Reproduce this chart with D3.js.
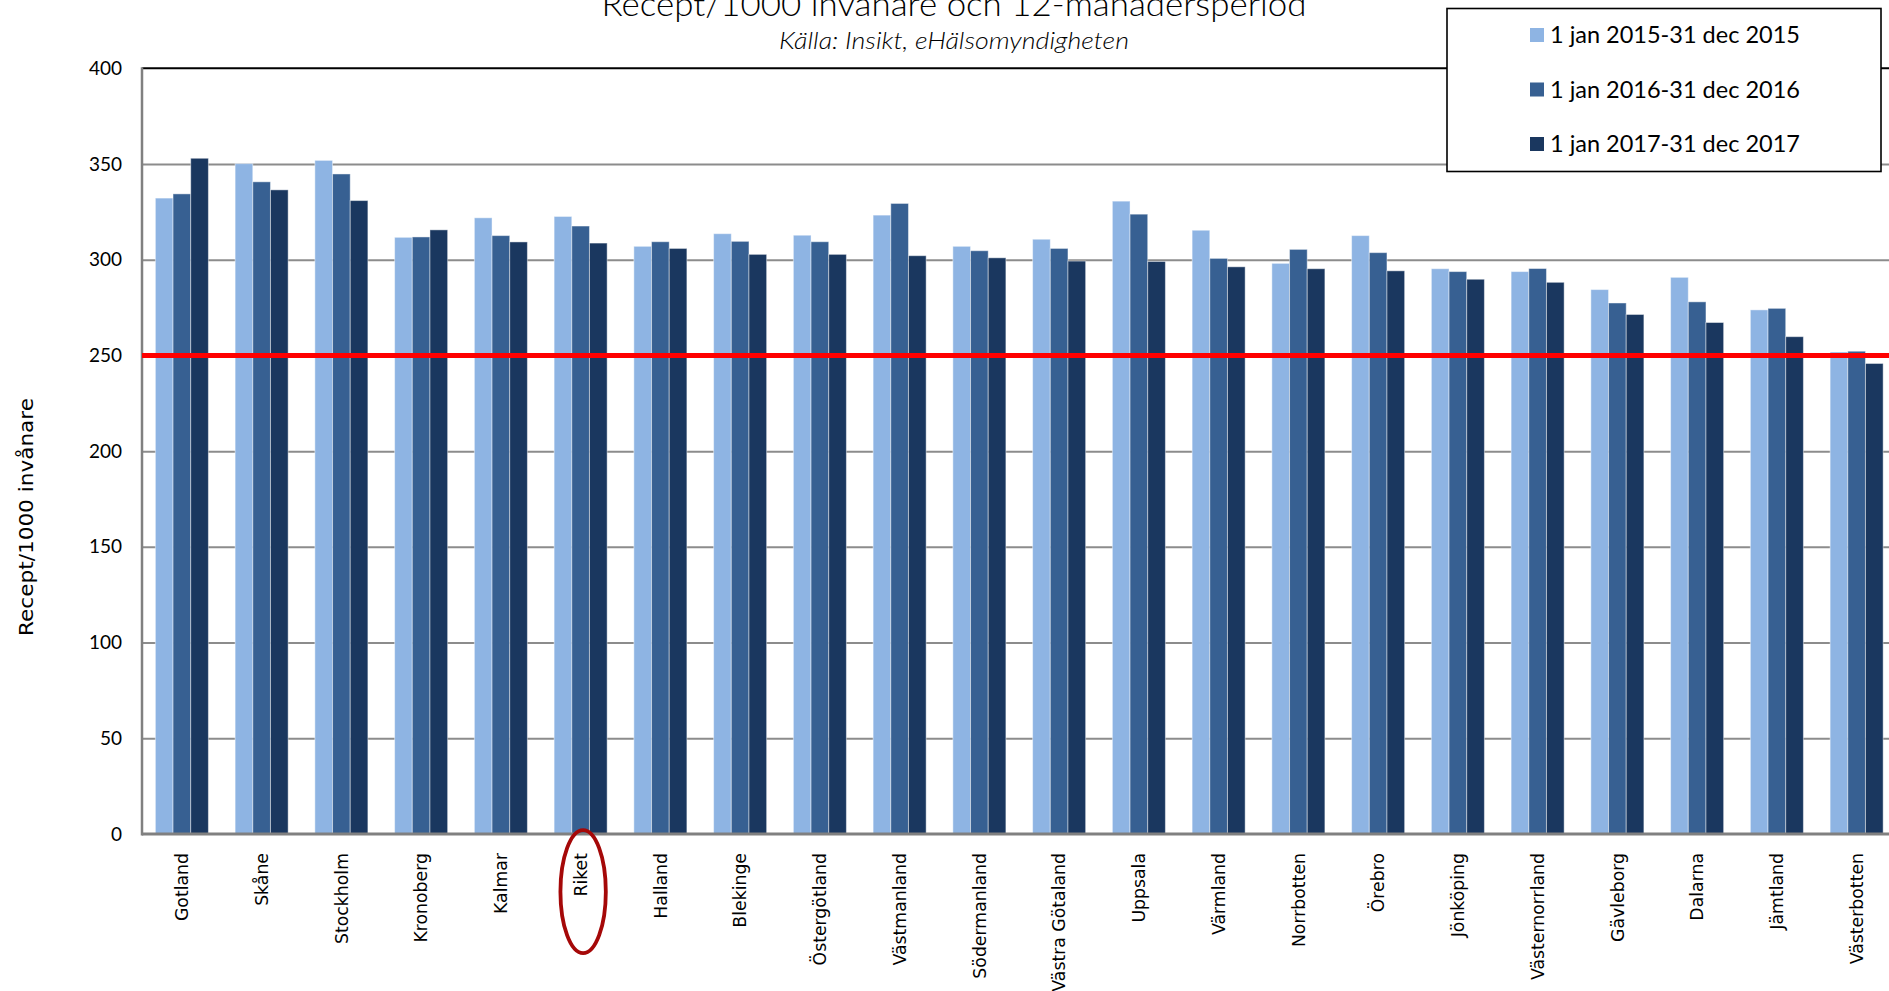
<!DOCTYPE html>
<html>
<head>
<meta charset="utf-8">
<script src="https://cdn.jsdelivr.net/npm/d3@7"></script>
<style>
  html, body { margin: 0; padding: 0; background: #fff; overflow: hidden; }
  svg { display: block; }
</style>
</head>
<body>
<svg id="chart" width="1889" height="991"></svg>
<script>
const categories = ["Gotland", "Skåne", "Stockholm", "Kronoberg", "Kalmar", "Riket", "Halland", "Blekinge", "Östergötland", "Västmanland", "Södermanland", "Västra Götaland", "Uppsala", "Värmland", "Norrbotten", "Örebro", "Jönköping", "Västernorrland", "Gävleborg", "Dalarna", "Jämtland", "Västerbotten"];
const seriesNames = ["1 jan 2015-31 dec 2015", "1 jan 2016-31 dec 2016", "1 jan 2017-31 dec 2017"];
const values2015 = [332.2, 350.2, 351.9, 311.7, 321.9, 322.6, 307.0, 313.6, 312.8, 323.3, 307.0, 310.7, 330.6, 315.4, 298.1, 312.6, 295.3, 293.8, 284.4, 290.8, 273.8, 251.8];
const values2016 = [334.4, 340.7, 344.8, 311.9, 312.6, 317.6, 309.4, 309.6, 309.4, 329.4, 304.7, 305.9, 323.8, 300.7, 305.4, 303.7, 293.8, 295.4, 277.4, 278.0, 274.6, 252.2];
const values2017 = [353.0, 336.5, 330.9, 315.6, 309.3, 308.7, 305.9, 302.8, 302.8, 302.1, 301.0, 299.3, 299.1, 296.3, 295.3, 294.2, 289.8, 288.2, 271.4, 267.2, 259.8, 245.8];
const yTicks = [0, 50, 100, 150, 200, 250, 300, 350, 400];
const referenceValue = 250;
const highlighted = "Riket";
const titleText = "Recept/1000 invånare och 12-månadersperiod";
const subtitleText = "Källa: Insikt, eHälsomyndigheten";
const yAxisTitle = "Recept/1000 invånare";

const colors = ["#8EB4E3", "#376092", "#1A375F"];
const seriesValues = [values2015, values2016, values2017];

const svg = d3.select("#chart");
const plotLeft = 142, plotTop = 68.3, plotBottom = 834;
const step = 79.75;
const plotRight = plotLeft + step * categories.length;

const x = d3.scaleBand().domain(categories).range([plotLeft, plotRight]).paddingInner(0.335).paddingOuter(0.1675);
const xs = d3.scaleBand().domain(d3.range(seriesNames.length)).range([0, x.bandwidth()]);
const y = d3.scaleLinear().domain([0, 400]).range([plotBottom, plotTop]);

// gridlines
const grid = svg.append("g").attr("transform", `translate(${plotLeft},0)`)
  .call(d3.axisLeft(y).tickValues(yTicks.filter(t => t > 0 && t < 400)).tickSize(-(plotRight - plotLeft)).tickFormat(""));
grid.select(".domain").remove();
grid.selectAll(".tick line").attr("stroke", "#8c8c8c").attr("stroke-width", 2);

// top border
svg.append("line").attr("x1", plotLeft).attr("x2", plotRight).attr("y1", y(400)).attr("y2", y(400))
  .attr("stroke", "#000").attr("stroke-width", 2);

// bars
const groups = svg.append("g").selectAll("g").data(categories).join("g")
  .attr("transform", d => `translate(${x(d)},0)`);
groups.selectAll("rect").data((d, i) => seriesValues.map((vals, s) => ({ s, v: vals[i] }))).join("rect")
  .attr("x", d => xs(d.s))
  .attr("width", xs.bandwidth())
  .attr("y", d => y(d.v))
  .attr("height", d => y(0) - y(d.v))
  .attr("fill", d => colors[d.s])
  .attr("stroke", "rgba(255,255,255,0.45)")
  .attr("stroke-width", 1);

// y axis tick labels
const yAxis = svg.append("g").attr("transform", `translate(${plotLeft},0)`)
  .call(d3.axisLeft(y).tickValues(yTicks).tickSize(0).tickPadding(20).tickFormat(d3.format("d")));
yAxis.select(".domain").remove();
yAxis.selectAll("text").attr("font-family", "Lato, 'Open Sans', sans-serif").attr("font-size", 19).attr("fill", "#000");

// axis lines
svg.append("line").attr("x1", plotLeft).attr("x2", plotLeft).attr("y1", plotTop - 1).attr("y2", plotBottom + 1.5)
  .attr("stroke", "#808080").attr("stroke-width", 2.5);
svg.append("line").attr("x1", plotLeft).attr("x2", plotRight).attr("y1", plotBottom).attr("y2", plotBottom)
  .attr("stroke", "#808080").attr("stroke-width", 3);

// x axis labels
const xAxis = svg.append("g").attr("transform", `translate(0,${plotBottom})`)
  .call(d3.axisBottom(x).tickSize(0).tickPadding(0));
xAxis.select(".domain").remove();
xAxis.selectAll("text")
  .attr("font-family", "'DejaVu Sans', Verdana, sans-serif")
  .attr("font-size", 17.3)
  .attr("fill", "#000")
  .attr("text-anchor", "end")
  .attr("transform", "rotate(-90)")
  .attr("x", -19)
  .attr("y", 0)
  .attr("dy", "0.36em");

// reference line
svg.append("line").attr("x1", plotLeft).attr("x2", plotRight).attr("y1", y(referenceValue)).attr("y2", y(referenceValue))
  .attr("stroke", "#ff0000").attr("stroke-width", 5);

// highlight ellipse
svg.append("ellipse")
  .attr("cx", x(highlighted) + x.bandwidth() / 2 + 2.5)
  .attr("cy", 891.7)
  .attr("rx", 22.7).attr("ry", 61.5)
  .attr("fill", "none").attr("stroke", "#A50808").attr("stroke-width", 3.8);

// titles
svg.append("text").attr("x", 954).attr("y", 15.5).attr("text-anchor", "middle")
  .attr("font-family", "Lato, 'Open Sans', sans-serif").attr("font-weight", 300).attr("font-size", 33).attr("fill", "#000")
  .attr("textLength", 705).attr("lengthAdjust", "spacingAndGlyphs")
  .text(titleText);
svg.append("text").attr("x", 954).attr("y", 49).attr("text-anchor", "middle")
  .attr("font-family", "Lato, 'Open Sans', sans-serif").attr("font-style", "italic").attr("font-weight", 300).attr("font-size", 23.5).attr("fill", "#000")
  .attr("textLength", 350).attr("lengthAdjust", "spacingAndGlyphs")
  .text(subtitleText);
svg.append("text")
  .attr("transform", `translate(33,517) rotate(-90)`)
  .attr("text-anchor", "middle")
  .attr("font-family", "'DejaVu Sans', Verdana, sans-serif").attr("font-size", 20).attr("fill", "#000")
  .attr("textLength", 238).attr("lengthAdjust", "spacingAndGlyphs")
  .text(yAxisTitle);

// legend
const legend = svg.append("g");
legend.append("rect").attr("x", 1447).attr("y", 8.5).attr("width", 434).attr("height", 163)
  .attr("fill", "#fff").attr("stroke", "#000").attr("stroke-width", 1.6);
const items = legend.selectAll("g.item").data(seriesNames).join("g").attr("class", "item")
  .attr("transform", (d, i) => `translate(1530,${35 + i * 54.5})`);
items.append("rect").attr("x", 0).attr("y", -7).attr("width", 14).attr("height", 14)
  .attr("fill", (d, i) => colors[i]);
items.append("text").attr("x", 20).attr("y", 0).attr("dy", "0.36em")
  .attr("font-family", "Lato, 'Open Sans', sans-serif").attr("font-size", 23.5).attr("fill", "#000")
  .text(d => d);
</script>
</body>
</html>
